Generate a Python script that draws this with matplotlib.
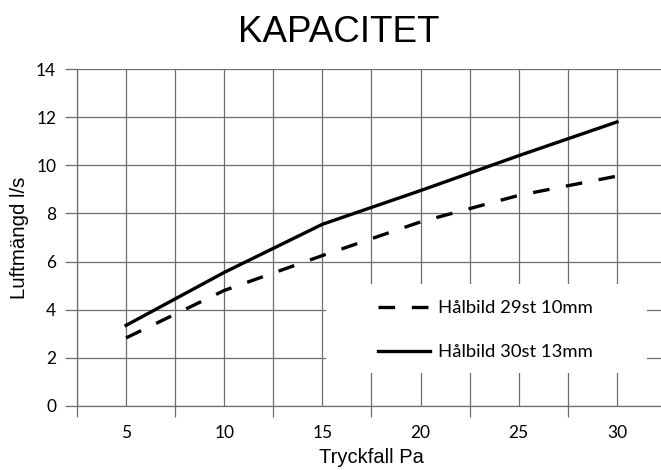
import matplotlib
matplotlib.use("Agg")
import matplotlib.pyplot as plt
from matplotlib.patches import Rectangle
import numpy as np

# Data
pressure = ["5", "10", "15", "20", "25", "30"]
flow_29st_10mm = [2.83, 4.8, 6.25, 7.65, 8.75, 9.55]
flow_30st_13mm = [3.35, 5.55, 7.55, 8.95, 10.4, 11.8]
y_ticks = [0, 2, 4, 6, 8, 10, 12, 14]

W, H = 661, 470
fig = plt.figure(figsize=(W / 100, H / 100), dpi=100)
fig.patch.set_facecolor("white")

# axes placed in pixel terms; right edge is cropped like the scan
x0, x1, y0, y1 = 77, 666, 406, 69
ax = fig.add_axes([x0 / W, 1 - y0 / H, (x1 - x0) / W, (y0 - y1) / H])

x = np.arange(len(pressure))
grid_col = "#6e6e6e"

ax.plot(x, flow_29st_10mm, color="black", linewidth=2.4,
        linestyle=(0, (5, 5)), label="Hålbild 29st 10mm", zorder=3)
ax.plot(x, flow_30st_13mm, color="black", linewidth=2.4,
        label="Hålbild 30st 13mm", zorder=3)

ax.set_xlim(-0.5, 5.5)
ax.set_ylim(0, 14)

# category axis: tick marks between categories, labels at centers
ax.set_xticks(np.arange(-0.5, 5.6, 1.0))
ax.set_xticklabels([])
ax.set_xticks(x, minor=True)
ax.set_xticklabels(pressure, minor=True)
ax.tick_params(axis="x", which="major", length=8, width=0.9, color=grid_col)
ax.tick_params(axis="x", which="minor", length=0, pad=14, labelsize=12.5)
ax.set_yticks(y_ticks)
ax.tick_params(axis="y", length=9, width=0.9, color=grid_col, pad=6, labelsize=12.5)
for lab in ax.get_xticklabels(minor=True) + ax.get_yticklabels():
    lab.set_fontfamily("Lato")

ax.grid(True, which="both", color=grid_col, linewidth=0.9)
ax.set_axisbelow(True)

for side in ["top", "right"]:
    ax.spines[side].set_visible(False)
for side in ["left", "bottom"]:
    ax.spines[side].set_color(grid_col)
    ax.spines[side].set_linewidth(0.9)

ax.set_xlabel("Tryckfall Pa", fontsize=14.5, family="Liberation Sans", labelpad=5)
ax.set_ylabel("Luftmängd l/s", fontsize=14.7, family="Liberation Sans", labelpad=5)

fig.text(339 / W, 1 - 33 / H, "KAPACITET", fontsize=26.5, family="Liberation Sans",
         ha="center", va="center")

# white box behind the legend, hiding the grid there
ax.add_patch(Rectangle((326 / W, 1 - 373 / H), (647 - 326) / W, (373 - 284) / H,
                       transform=fig.transFigure, facecolor="white",
                       edgecolor="none", zorder=1.5, clip_on=False))

leg = ax.legend(loc="upper left", bbox_to_anchor=(378 / W, 1 - 300 / H),
                bbox_transform=fig.transFigure, frameon=False,
                prop={"family": "Lato", "size": 13.3}, handlelength=2.8,
                handletextpad=0.45, labelspacing=1.52, borderpad=0,
                borderaxespad=0)
leg.set_zorder(5)

fig.savefig("out.png", dpi=100, facecolor="white")
